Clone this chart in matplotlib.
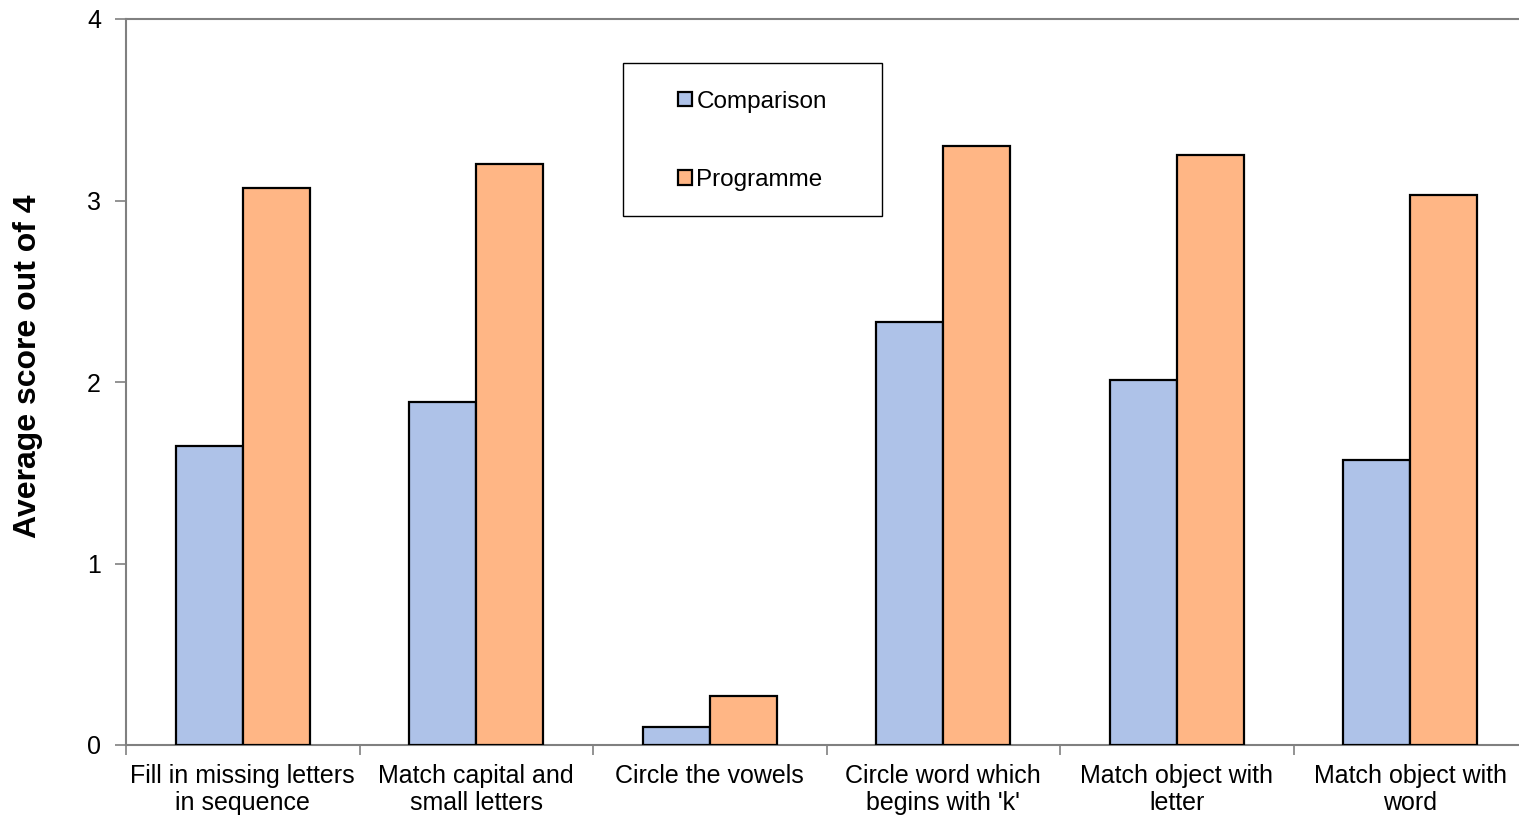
import matplotlib
matplotlib.use("Agg")
import matplotlib.pyplot as plt
import matplotlib.patches as mpatches
import numpy as np

plt.rcParams['font.family'] = ['Liberation Sans', 'DejaVu Sans']

categories = ["Fill in missing letters\nin sequence", "Match capital and\nsmall letters",
              "Circle the vowels", "Circle word which\nbegins with 'k'",
              "Match object with\nletter", "Match object with\nword"]
comparison = [1.65, 1.89, 0.10, 2.33, 2.01, 1.57]
programme = [3.07, 3.20, 0.27, 3.30, 3.25, 3.03]
series_names = ["Comparison", "Programme"]
yticks = [0, 1, 2, 3, 4]

blue = '#AEC2E8'
orange = '#FFB685'
axcol = '#808080'

fig = plt.figure(figsize=(15.19, 8.18), dpi=100)
# plot area runs a little past the right edge of the picture
ax = fig.add_axes([126/1519, 1-745/818, (1527-126)/1519, (745-19)/818])

x = np.arange(len(categories))
w = 0.287
b1 = ax.bar(x - w/2, comparison, w, color=blue, edgecolor='black', linewidth=1.6, zorder=3)
b2 = ax.bar(x + w/2, programme, w, color=orange, edgecolor='black', linewidth=1.6, zorder=3)

ax.set_xlim(-0.5, len(categories) - 0.5)
ax.set_ylim(0, 4)
ax.set_yticks(yticks)
ax.set_yticklabels([str(t) for t in yticks], fontsize=18)
ax.set_xticks(x)
ax.set_xticklabels(categories, fontsize=18, linespacing=1.17)
ax.set_xticks(np.arange(len(categories) + 1) - 0.5, minor=True)
ax.tick_params(axis='x', which='major', length=0, pad=13.5)
ax.tick_params(axis='x', which='minor', length=7, width=1.2, color=axcol, direction='out')
ax.tick_params(axis='y', length=8, width=1.2, color=axcol, pad=10)

for s in ['left', 'bottom', 'top']:
    ax.spines[s].set_color(axcol)
    ax.spines[s].set_linewidth(1.5)
ax.spines['right'].set_visible(False)

fig.text(28/1519, 1-366/818, "Average score out of 4", rotation=90,
         fontsize=23, fontweight='bold', ha='center', va='center')

# legend frame drawn by hand, legend itself without frame
frame = mpatches.Rectangle((623/1519, 1-216/818), 259/1519, 153/818,
                           transform=fig.transFigure, facecolor='white',
                           edgecolor='black', linewidth=1.0, zorder=5)
fig.patches.append(frame)
leg = fig.legend([b1, b2], series_names, loc='center',
                 bbox_to_anchor=((623+882)/2/1519, 1-141/818),
                 frameon=False, fontsize=17.5, handlelength=0.55, handleheight=0.55,
                 handletextpad=0.2, labelspacing=2.33)
leg.set_zorder(6)

fig.savefig("out.png", dpi=100)
